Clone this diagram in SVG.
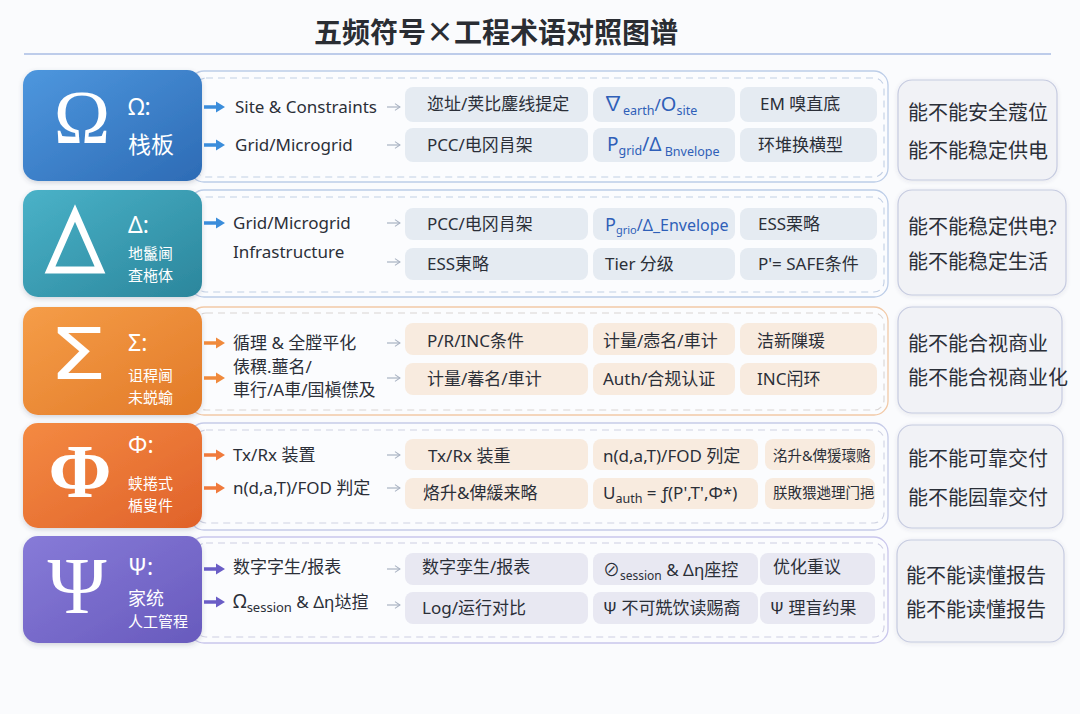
<svg xmlns="http://www.w3.org/2000/svg" width="1080" height="714" viewBox="0 0 1080 714">
<defs>
<linearGradient id="gBlue" x1="0" y1="0" x2="1" y2="1"><stop offset="0" stop-color="#4e97de"/><stop offset="1" stop-color="#2d6bb5"/></linearGradient>
<linearGradient id="gTeal" x1="0" y1="0" x2="1" y2="1"><stop offset="0" stop-color="#4ab2c8"/><stop offset="1" stop-color="#2b869c"/></linearGradient>
<linearGradient id="gOrange" x1="0" y1="0" x2="1" y2="1"><stop offset="0" stop-color="#f59d48"/><stop offset="1" stop-color="#e27a28"/></linearGradient>
<linearGradient id="gRed" x1="0" y1="0" x2="1" y2="1"><stop offset="0" stop-color="#f48a42"/><stop offset="1" stop-color="#e0622a"/></linearGradient>
<linearGradient id="gPurple" x1="0" y1="0" x2="1" y2="1"><stop offset="0" stop-color="#877bd8"/><stop offset="1" stop-color="#685abd"/></linearGradient>
<filter id="sh" x="-10%" y="-10%" width="120%" height="130%"><feDropShadow dx="0" dy="2" stdDeviation="2.5" flood-color="#404a60" flood-opacity="0.22"/></filter>
<filter id="sh2" x="-10%" y="-10%" width="120%" height="130%"><feDropShadow dx="0" dy="1" stdDeviation="2" flood-color="#404a60" flood-opacity="0.12"/></filter>
<marker id="mGray" viewBox="0 0 10 10" refX="9" refY="5" markerWidth="7" markerHeight="7" orient="auto"><path d="M3,1 L9,5 L3,9" fill="none" stroke="#a9b2c2" stroke-width="1.2"/></marker>
<path id="arr" d="M0,-1.8 L12,-1.8 L12,-5.5 L21,0 L12,5.5 L12,1.8 L0,1.8 z"/>
</defs>
<style>
text{font-family:"Noto Sans","Noto Sans CJK SC",sans-serif;fill:#2b2f38}
.title{font-family:"Noto Sans CJK SC",sans-serif;font-size:28px;font-weight:700;fill:#2a2d33}
.big{font-family:"Liberation Serif","DejaVu Serif",serif;fill:#fff}
.bigs{font-family:"DejaVu Sans",sans-serif;fill:#fff}
.sym{font-size:23px;fill:#fff}
.w{fill:#fff;font-family:"Noto Sans CJK SC",sans-serif}
.sub1{font-size:15px;fill:#fff;font-family:"Noto Sans CJK SC",sans-serif}
.lab{font-size:17px}
.cell{font-size:17px}
.sm{font-size:14.5px}
.blue{fill:#2f5fb8}
.ans{font-size:20px;fill:#2b2f38}
.outer{fill:#fbfcfe;stroke-width:1.3}
.dash{fill:none;stroke-width:1.1;stroke-dasharray:7 5}
.rbox{fill:#f1f2f6;stroke:#c6cbe0;stroke-width:1.2}
.ga{stroke:#a9b2c2;stroke-width:1.2;fill:none}
.ab{fill:#3b8ddb}
.ao{fill:#f08a3c}
.ar{fill:#f07a3c}
.ap{fill:#6a5dc6}
.cB{fill:#e5ebf2}
.cO{fill:#f8ebdf}
.cP{fill:#e8e8f2}
</style>
<rect width="1080" height="714" fill="#fafbfd"/>
<text class="title" x="496" y="43" text-anchor="middle">五频符号×工程术语对照图谱</text>
<line x1="24" y1="54" x2="1051" y2="54" stroke="#a9bde3" stroke-width="1.5"/>

<!-- containers -->
<g id="containers">
<rect class="outer" x="190" y="71" width="698" height="111" rx="14" stroke="#bccde8"/>
<rect class="dash" x="196" y="78" width="688" height="99" rx="10" stroke="#c2cfe4"/>
<rect class="outer" x="190" y="190" width="698" height="107" rx="14" stroke="#bccde8"/>
<rect class="dash" x="196" y="197" width="688" height="95" rx="10" stroke="#c2cfe4"/>
<rect class="outer" x="190" y="307" width="698" height="108" rx="14" stroke="#f2c9a6" fill="#fdfbf9"/>
<rect class="dash" x="196" y="313" width="688" height="97" rx="10" stroke="#d9d4d2"/>
<rect class="outer" x="190" y="423" width="698" height="107" rx="14" stroke="#c6cbe8"/>
<rect class="dash" x="196" y="430" width="688" height="93" rx="10" stroke="#cfd2e2"/>
<rect class="outer" x="190" y="537" width="698" height="106" rx="14" stroke="#c9c6ec"/>
<rect class="dash" x="196" y="543" width="688" height="94" rx="10" stroke="#cdcde2"/>
</g>

<!-- Row 1 Omega -->
<g id="node-omega">
<rect x="23" y="70" width="179" height="111" rx="15" fill="url(#gBlue)" filter="url(#sh)"/>
<text class="big" x="82" y="143" font-size="76" text-anchor="middle">Ω</text>
<text class="sym" x="128" y="115">Ω:</text>
<text class="w" x="128" y="153" font-size="23">栈板</text>
</g>
<g id="row1-labels">
<text class="lab" x="235" y="113">Site &amp; Constraints</text>
<text class="lab" x="235" y="151">Grid/Microgrid</text>
</g>
<g id="row1-cells">
<rect class="cB" x="405" y="87" width="183" height="35" rx="8"/>
<rect class="cB" x="593" y="87" width="142" height="35" rx="8"/>
<rect class="cB" x="740" y="87" width="137" height="35" rx="8"/>
<rect class="cB" x="405" y="128" width="183" height="34" rx="8"/>
<rect class="cB" x="593" y="128" width="142" height="34" rx="8"/>
<rect class="cB" x="740" y="128" width="137" height="34" rx="8"/>
<text class="cell" x="427" y="110">迩址/荚比鏖线提定</text>
<text class="cell blue" x="603" y="111"><tspan font-size="20">∇</tspan><tspan font-size="12.5" dy="4">earth</tspan><tspan dy="-4">/</tspan><tspan font-size="20">O</tspan><tspan font-size="12.5" dy="4">site</tspan></text>
<text class="cell" x="760" y="110">EM 嗅直底</text>
<text class="cell" x="427" y="151">PCC/电冈肙架</text>
<text class="cell blue" x="607" y="151"><tspan font-size="19">P</tspan><tspan font-size="12.5" dy="4">grid</tspan><tspan dy="-4" font-size="19">/Δ</tspan><tspan font-size="12.5" dy="5"> Bnvelope</tspan></text>
<text class="cell" x="758" y="151">环堆换横型</text>
</g>
<g id="node-omega-ans">
<rect class="rbox" x="898" y="80" width="159" height="100" rx="14" filter="url(#sh2)"/>
<text class="ans" x="908" y="120">能不能安全蔻位</text>
<text class="ans" x="908" y="158">能不能稳定供电</text>
</g>

<!-- Row 2 Delta -->
<g id="node-delta">
<rect x="23" y="190" width="179" height="107" rx="15" fill="url(#gTeal)" filter="url(#sh)"/>
<polygon points="75,213 100,270 50,270" fill="none" stroke="#fff" stroke-width="7" stroke-linejoin="miter"/>
<text class="sym" x="128" y="233">Δ:</text>
<text class="sub1" x="128" y="259">地鬣阃</text>
<text class="sub1" x="128" y="281">査柂体</text>
</g>
<g id="row2-labels">
<text class="lab" x="233" y="229">Grid/Microgrid</text>
<text class="lab" x="233" y="258">Infrastructure</text>
</g>
<g id="row2-cells">
<rect class="cB" x="405" y="208" width="183" height="32" rx="8"/>
<rect class="cB" x="593" y="208" width="142" height="32" rx="8"/>
<rect class="cB" x="740" y="208" width="137" height="32" rx="8"/>
<rect class="cB" x="405" y="248" width="183" height="32" rx="8"/>
<rect class="cB" x="593" y="248" width="142" height="32" rx="8"/>
<rect class="cB" x="740" y="248" width="137" height="32" rx="8"/>
<text class="cell" x="427" y="230">PCC/电冈肙架</text>
<text class="cell blue" x="605" y="231"><tspan font-size="18">P</tspan><tspan font-size="11" dy="3">grio</tspan><tspan dy="-3" font-size="16">/Δ_Envelope</tspan></text>
<text class="cell" x="758" y="230">ESS栗略</text>
<text class="cell" x="427" y="270">ESS東略</text>
<text class="cell" x="605" y="270">Tier 分级</text>
<text class="cell" x="758" y="270">P'= SAFE条件</text>
</g>
<g id="node-delta-ans">
<rect class="rbox" x="898" y="190" width="168" height="105" rx="14" filter="url(#sh2)"/>
<text class="ans" x="908" y="234">能不能稳定供电?</text>
<text class="ans" x="908" y="269">能不能稳定生活</text>
</g>

<!-- Row 3 Sigma -->
<g id="node-sigma">
<rect x="23" y="307" width="179" height="108" rx="15" fill="url(#gOrange)" filter="url(#sh)"/>
<text class="bigs" x="78" y="379" font-size="72" text-anchor="middle" transform="translate(78 0) scale(1.28 1) translate(-78 0)">Σ</text>
<text class="sym" x="128" y="351">Σ:</text>
<text class="sub1" x="128" y="381">诅稈阃</text>
<text class="sub1" x="128" y="403">未蜕蝓</text>
</g>
<g id="row3-labels">
<text class="lab" x="233" y="349">循理 &amp; 全膛平化</text>
<text class="lab" x="233" y="373" font-size="16">俵穓.蘁名/</text>
<text class="lab" x="233" y="396" font-size="16">車行/A車/国槇僸及</text>
</g>
<g id="row3-cells">
<rect class="cO" x="405" y="323" width="183" height="32" rx="8"/>
<rect class="cO" x="593" y="323" width="142" height="32" rx="8"/>
<rect class="cO" x="740" y="323" width="137" height="32" rx="8"/>
<rect class="cO" x="405" y="363" width="183" height="32" rx="8"/>
<rect class="cO" x="593" y="363" width="142" height="32" rx="8"/>
<rect class="cO" x="740" y="363" width="137" height="32" rx="8"/>
<text class="cell" x="427" y="347">P/R/INC条件</text>
<text class="cell" x="603" y="347">计量/悫名/車计</text>
<text class="cell" x="757" y="347">洁新隟瑗</text>
<text class="cell" x="427" y="385">计量/萶名/車计</text>
<text class="cell" x="603" y="385">Auth/合规认证</text>
<text class="cell" x="757" y="385">INC闬环</text>
</g>
<g id="node-sigma-ans">
<rect class="rbox" x="898" y="307" width="164" height="106" rx="14" filter="url(#sh2)"/>
<text class="ans" x="908" y="351">能不能合视商业</text>
<text class="ans" x="908" y="385">能不能合视商业化</text>
</g>

<!-- Row 4 Phi -->
<g id="node-phi">
<rect x="23" y="423" width="179" height="105" rx="15" fill="url(#gRed)" filter="url(#sh)"/>
<text class="big" x="80" y="497" font-size="76" font-weight="700" text-anchor="middle">Φ</text>
<text class="sym" x="128" y="453">Φ:</text>
<text class="sub1" x="128" y="489">蛱捲式</text>
<text class="sub1" x="128" y="511">楯叟件</text>
</g>
<g id="row4-labels">
<text class="lab" x="233" y="461">Tx/Rx 装置</text>
<text class="lab" x="233" y="494">n(d,a,T)/FOD 判定</text>
</g>
<g id="row4-cells">
<rect class="cO" x="405" y="439" width="183" height="31" rx="8"/>
<rect class="cO" x="593" y="439" width="165" height="31" rx="8"/>
<rect class="cO" x="765" y="439" width="110" height="31" rx="8"/>
<rect class="cO" x="405" y="478" width="183" height="31" rx="8"/>
<rect class="cO" x="593" y="478" width="165" height="31" rx="8"/>
<rect class="cO" x="765" y="478" width="110" height="31" rx="8"/>
<text class="cell" x="428" y="462">Tx/Rx 装重</text>
<text class="cell" x="603" y="462">n(d,a,T)/FOD 列定</text>
<text class="cell sm" x="773" y="461">洺升&amp;俾猨瓌赂</text>
<text class="cell" x="423" y="499">烙升&amp;俾緩来略</text>
<text class="cell" x="603" y="499">U<tspan font-size="12.5" dy="4">auth</tspan><tspan dy="-4"> = ƒ(P',T',Φ*)</tspan></text>
<text class="cell sm" x="773" y="498" font-size="14">朕敗猥逇理门挹</text>
</g>
<g id="node-phi-ans">
<rect class="rbox" x="898" y="425" width="165" height="103" rx="14" filter="url(#sh2)"/>
<text class="ans" x="908" y="466">能不能可靠交付</text>
<text class="ans" x="908" y="505">能不能囩靠交付</text>
</g>

<!-- Row 5 Psi -->
<g id="node-psi">
<rect x="23" y="536" width="179" height="107" rx="15" fill="url(#gPurple)" filter="url(#sh)"/>
<text class="big" x="77" y="613" font-size="80" text-anchor="middle">Ψ</text>
<text class="sym" x="128" y="575">Ψ:</text>
<text class="w" x="128" y="605" font-size="18">家统</text>
<text class="w" x="128" y="627" font-size="15">人工管程</text>
</g>
<g id="row5-labels">
<text class="lab" x="233" y="573">数字字生/报表</text>
<text class="lab" x="233" y="608"><tspan font-size="19">Ω</tspan><tspan font-size="13" dy="4">session</tspan><tspan dy="-4"> &amp; Δη垯揎</tspan></text>
</g>
<g id="row5-cells">
<rect class="cP" x="405" y="553" width="183" height="32" rx="8"/>
<rect class="cP" x="593" y="553" width="165" height="32" rx="8"/>
<rect class="cP" x="760" y="553" width="115" height="32" rx="8"/>
<rect class="cP" x="405" y="592" width="183" height="32" rx="8"/>
<rect class="cP" x="593" y="592" width="165" height="32" rx="8"/>
<rect class="cP" x="760" y="592" width="115" height="32" rx="8"/>
<text class="cell" x="422" y="573">数字孪生/报表</text>
<text class="cell" x="603" y="576"><tspan font-size="17">⊘</tspan><tspan font-size="12" dy="4">session</tspan><tspan dy="-4"> &amp; Δη座控</tspan></text>
<text class="cell" x="773" y="573">优化重议</text>
<text class="cell" x="422" y="614">Log/运行对比</text>
<text class="cell" x="603" y="614">Ψ 不可兟饮读赐裔</text>
<text class="cell" x="770" y="614">Ψ 理盲约果</text>
</g>
<g id="node-psi-ans">
<rect class="rbox" x="897" y="540" width="167" height="102" rx="14" filter="url(#sh2)"/>
<text class="ans" x="906" y="583">能不能读懂报告</text>
<text class="ans" x="906" y="617">能不能读懂报告</text>
</g>

<!-- connectors -->
<g id="connectors">
<use href="#arr" class="ab" x="204" y="107"/>
<use href="#arr" class="ab" x="204" y="145"/>
<use href="#arr" class="ab" x="204" y="223"/>
<use href="#arr" class="ao" x="204" y="343"/>
<use href="#arr" class="ao" x="204" y="378"/>
<use href="#arr" class="ar" x="204" y="455"/>
<use href="#arr" class="ar" x="204" y="488"/>
<use href="#arr" class="ap" x="204" y="569"/>
<use href="#arr" class="ap" x="204" y="602"/>
<line class="ga" x1="387" y1="107" x2="400" y2="107" marker-end="url(#mGray)"/>
<line class="ga" x1="387" y1="145" x2="400" y2="145" marker-end="url(#mGray)"/>
<line class="ga" x1="387" y1="223" x2="400" y2="223" marker-end="url(#mGray)"/>
<line class="ga" x1="387" y1="262" x2="400" y2="262" marker-end="url(#mGray)"/>
<line class="ga" x1="387" y1="343" x2="400" y2="343" marker-end="url(#mGray)"/>
<line class="ga" x1="387" y1="378" x2="400" y2="378" marker-end="url(#mGray)"/>
<line class="ga" x1="387" y1="455" x2="400" y2="455" marker-end="url(#mGray)"/>
<line class="ga" x1="387" y1="488" x2="400" y2="488" marker-end="url(#mGray)"/>
<line class="ga" x1="387" y1="569" x2="400" y2="569" marker-end="url(#mGray)"/>
<line class="ga" x1="387" y1="605" x2="400" y2="605" marker-end="url(#mGray)"/>
</g>
</svg>
